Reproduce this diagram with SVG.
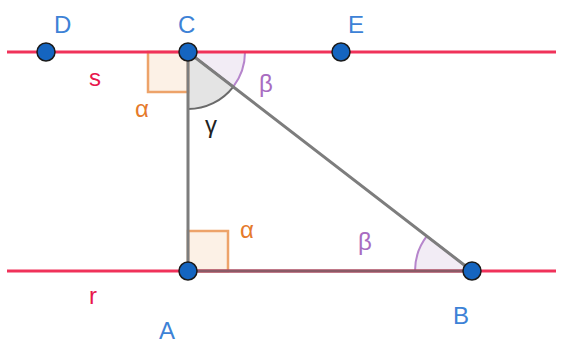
<svg xmlns="http://www.w3.org/2000/svg" width="563" height="345" viewBox="0 0 563 345">
<style>
.line{stroke:#f0325a;stroke-width:3;fill:none}
.seg{stroke:#7d7d7d;stroke-width:3;fill:none;stroke-linecap:round}
.pt{fill:#1565c0;stroke:#1a1a1a;stroke-width:1.5}
.lbl{font-family:"Liberation Sans",Arial,sans-serif;font-size:24px}
.blue{fill:#3d82d6}
.red{fill:#e8174d}
.orange{fill:#e57a2b}
.purple{fill:#a86cc1}
.black{fill:#222}
.sq{fill:#fcf1e6;stroke:#eda36a;stroke-width:2.5}
.beta{fill:#f2ecf5;stroke:#b685cc;stroke-width:2}
.gamma{fill:#e4e4e4;stroke:#6a6a6a;stroke-width:2}
</style>
<rect width="563" height="345" fill="#fff"/>
<g id="angles">
<path class="beta" d="M188,52 L245,52 A57,57 0 0 1 233.2,86.8 Z"/>
<path class="gamma" d="M188,52 L233.2,86.8 A57,57 0 0 1 188,109 Z"/>
<rect class="sq" x="148" y="52" width="40" height="40"/>
<rect class="sq" x="188" y="231" width="40" height="40"/>
<path class="beta" d="M472,271 L415,271 A57,57 0 0 1 426.8,236.2 Z"/>
</g>
<g id="lines">
<line id="s" class="line" x1="7" y1="52" x2="556" y2="52"/>
<line id="r" class="line" x1="7" y1="271" x2="556" y2="271"/>
</g>
<g id="connectors">
<line class="seg" x1="188" y1="52" x2="188" y2="271"/>
<line class="seg" x1="188" y1="271" x2="472" y2="271" style="stroke:#8a5a66"/>
<line class="seg" x1="188" y1="52" x2="472" y2="271"/>
</g>
<g id="D"><circle class="pt" cx="46" cy="52" r="9"/><text class="lbl blue" x="54" y="33">D</text></g>
<g id="C"><circle class="pt" cx="188" cy="52" r="9"/><text class="lbl blue" x="178" y="33">C</text></g>
<g id="E"><circle class="pt" cx="341" cy="52" r="9"/><text class="lbl blue" x="348" y="33">E</text></g>
<g id="A"><circle class="pt" cx="188" cy="271" r="9"/><text class="lbl blue" x="159" y="339">A</text></g>
<g id="B"><circle class="pt" cx="472" cy="271" r="9"/><text class="lbl blue" x="453" y="324">B</text></g>
<g id="labels">
<text class="lbl red" x="89" y="86">s</text>
<text class="lbl red" x="89" y="304">r</text>
<text class="lbl orange" x="135" y="117">α</text>
<text class="lbl orange" x="240" y="238">α</text>
<text class="lbl purple" x="259" y="92">β</text>
<text class="lbl purple" x="358" y="250">β</text>
<text class="lbl black" x="205" y="133">γ</text>
</g>
</svg>
